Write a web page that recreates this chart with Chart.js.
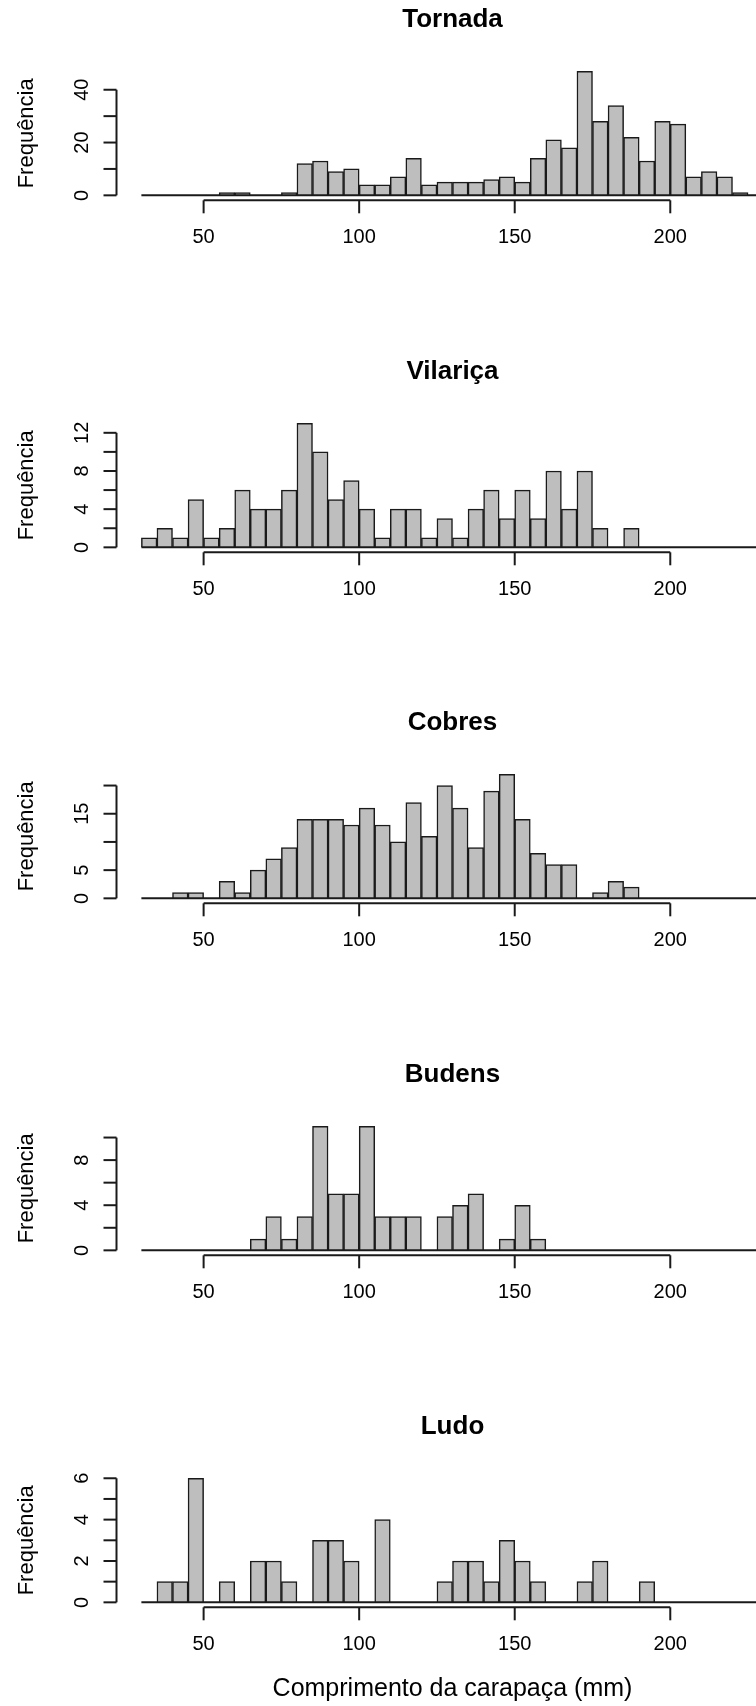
<!DOCTYPE html>
<html>
<head>
<meta charset="utf-8">
<script src="https://cdn.jsdelivr.net/npm/chart.js@4.4.1/dist/chart.umd.min.js"></script>
<style>
  body { margin: 0; width: 756px; height: 1706px; overflow: hidden; background: #fff; position: relative; }
  .panel { position: absolute; left: 0; width: 800px; }
</style>
</head>
<body>
<div class="panel" style="top:0px;height:352px"><canvas id="tornada"></canvas></div>
<div class="panel" style="top:351.7px;height:352px"><canvas id="vilarica"></canvas></div>
<div class="panel" style="top:703.4px;height:352px"><canvas id="cobres"></canvas></div>
<div class="panel" style="top:1055.1px;height:352px"><canvas id="budens"></canvas></div>
<div class="panel" style="top:1406.8px;height:300px"><canvas id="ludo"></canvas></div>
<script>
// bin edges (mm), 5 mm classes
const breaks = [30, 35, 40, 45, 50, 55, 60, 65, 70, 75, 80, 85, 90, 95, 100, 105, 110, 115, 120,
  125, 130, 135, 140, 145, 150, 155, 160, 165, 170, 175, 180, 185, 190, 195, 200, 205, 210,
  215, 220, 225, 230, 235, 240];

// counts per class, starting at 30-35
const tornada = [0, 0, 0, 0, 0, 1, 1, 0, 0, 1, 12, 13, 9, 10, 4, 4, 7, 14, 4, 5, 5, 5, 6, 7, 5,
  14, 21, 18, 47, 28, 34, 22, 13, 28, 27, 7, 9, 7, 1];
const vilarica = [1, 2, 1, 5, 1, 2, 6, 4, 4, 6, 13, 10, 5, 7, 4, 1, 4, 4, 1, 3, 1, 4, 6, 3, 6, 3,
  8, 4, 8, 2, 0, 2];
const cobres = [0, 0, 1, 1, 0, 3, 1, 5, 7, 9, 14, 14, 14, 13, 16, 13, 10, 17, 11, 20, 16, 9, 19,
  22, 14, 8, 6, 6, 0, 1, 3, 2];
const budens = [0, 0, 0, 0, 0, 0, 0, 1, 3, 1, 3, 11, 5, 5, 11, 3, 3, 3, 0, 3, 4, 5, 0, 1, 4, 1];
const ludo = [0, 1, 1, 6, 0, 1, 0, 2, 2, 1, 0, 3, 3, 2, 0, 4, 0, 0, 0, 1, 2, 2, 1, 3, 2, 1, 0, 0,
  1, 2, 0, 0, 1];

// axis ticks and labels
const xTicks = [50, 100, 150, 200];
const tornadaTicks = [0, 10, 20, 30, 40];
const tornadaLabels = ['0', '', '20', '', '40'];
const vilaricaTicks = [0, 2, 4, 6, 8, 10, 12];
const vilaricaLabels = ['0', '', '4', '', '8', '', '12'];
const cobresTicks = [0, 5, 10, 15, 20];
const cobresLabels = ['0', '5', '', '15', ''];
const budensTicks = [0, 2, 4, 6, 8, 10];
const budensLabels = ['0', '', '4', '', '8', ''];
const ludoTicks = [0, 1, 2, 3, 4, 5, 6];
const ludoLabels = ['0', '', '2', '', '4', '', '6'];

const FONT = '"Liberation Sans", Arial, Helvetica, sans-serif';

// R style axes: detached x axis, rotated y labels, histogram baseline
const rAxes = {
    id: 'rAxes',
    afterDatasetsDraw(chart, args, opts) {
        const ctx = chart.ctx;
        const area = chart.chartArea;
        const x = chart.scales.x;
        const y = chart.scales.y;

        function line(x1, y1, x2, y2) {
            ctx.beginPath();
            ctx.moveTo(x1, y1);
            ctx.lineTo(x2, y2);
            ctx.stroke();
        }

        ctx.save();
        ctx.strokeStyle = '#1a1a1a';
        ctx.fillStyle = '#000';
        ctx.lineWidth = 2;

        const y0 = y.getPixelForValue(0);
        line(x.getPixelForValue(breaks[0]), y0, x.getPixelForValue(breaks[breaks.length - 1]), y0);

        // x axis
        const xb = area.bottom;
        line(x.getPixelForValue(xTicks[0]), xb, x.getPixelForValue(xTicks[xTicks.length - 1]), xb);
        ctx.font = '20px ' + FONT;
        ctx.textAlign = 'center';
        ctx.textBaseline = 'alphabetic';
        xTicks.forEach(v => {
            const px = x.getPixelForValue(v);
            line(px, xb, px, xb + 13);
            ctx.fillText(String(v), px, xb + 43);
        });

        // y axis
        const xl = area.left;
        const t = opts.ticks;
        line(xl, y.getPixelForValue(t[0]), xl, y.getPixelForValue(t[t.length - 1]));
        t.forEach((v, i) => {
            const py = y.getPixelForValue(v);
            line(xl - 13, py, xl, py);
            if (opts.labels[i]) {
                ctx.save();
                ctx.translate(xl - 28.5, py);
                ctx.rotate(-Math.PI / 2);
                ctx.fillText(opts.labels[i], 0, 0);
                ctx.restore();
            }
        });

        // y title
        ctx.save();
        ctx.font = '22px ' + FONT;
        ctx.translate(33, (area.top + area.bottom) / 2);
        ctx.rotate(-Math.PI / 2);
        ctx.fillText('Frequência', 0, 0);
        ctx.restore();

        if (opts.xlabel) {
            ctx.font = '25px ' + FONT;
            ctx.fillText(opts.xlabel, (area.left + area.right) / 2, xb + 89);
        }
        ctx.restore();
    }
};

function makeHist(id, name, counts, ticks, labels, height, xlabel) {
    const ymax = Math.max(...counts);
    const points = counts.map((c, i) => ({x: (breaks[i] + breaks[i + 1]) / 2, y: c}));

    new Chart(document.getElementById(id), {
        type: 'bar',
        data: {
            datasets: [{
                data: points,
                backgroundColor: '#bebebe',
                borderColor: '#1a1a1a',
                borderWidth: 1.5,
                barPercentage: 1,
                categoryPercentage: 1
            }]
        },
        options: {
            animation: false,
            responsive: true,
            maintainAspectRatio: false,
            layout: {
                padding: {left: 116.5, right: 11.5, top: 0, bottom: height - 200.3}
            },
            scales: {
                x: {type: 'linear', min: 22, max: 238, offset: false, display: false},
                y: {min: -0.04 * ymax, max: 1.04 * ymax, display: false}
            },
            plugins: {
                legend: {display: false},
                tooltip: {enabled: false},
                title: {
                    display: true,
                    text: name,
                    color: '#000',
                    font: {family: FONT, size: 26, weight: 'bold'},
                    padding: {top: 4.6, bottom: 30.5}
                },
                rAxes: {ticks: ticks, labels: labels, xlabel: xlabel}
            }
        },
        plugins: [rAxes]
    });
}

makeHist('tornada', 'Tornada', tornada, tornadaTicks, tornadaLabels, 352);
makeHist('vilarica', 'Vilariça', vilarica, vilaricaTicks, vilaricaLabels, 352);
makeHist('cobres', 'Cobres', cobres, cobresTicks, cobresLabels, 352);
makeHist('budens', 'Budens', budens, budensTicks, budensLabels, 352);
makeHist('ludo', 'Ludo', ludo, ludoTicks, ludoLabels, 300, 'Comprimento da carapaça (mm)');
</script>
</body>
</html>
